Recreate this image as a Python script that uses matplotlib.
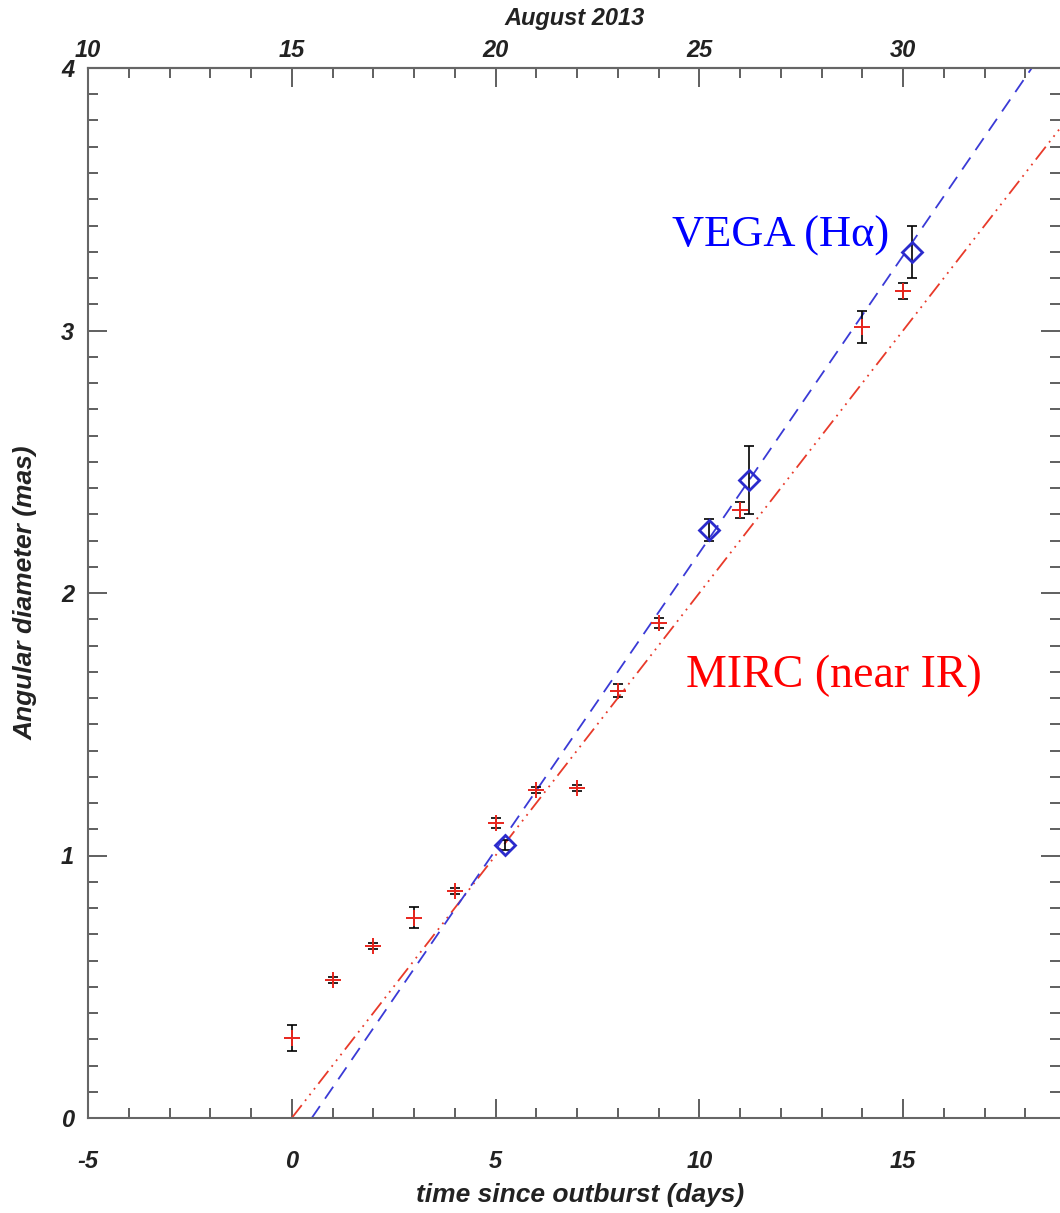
import matplotlib.pyplot as plt
from matplotlib.ticker import MultipleLocator
import numpy as np

# MIRC (near IR) diameters
mirc_t = [0, 1, 2, 3, 4, 5, 6, 7, 8, 9, 11, 14, 15]
mirc_d = [0.305, 0.526, 0.655, 0.762, 0.865, 1.124, 1.25, 1.257, 1.627, 1.886, 2.316, 3.013, 3.15]
mirc_err = [0.05, 0.012, 0.012, 0.04, 0.012, 0.018, 0.012, 0.012, 0.025, 0.02, 0.03, 0.06, 0.03]

# VEGA (H-alpha) diameters
vega_t = [5.24, 10.23, 11.21, 15.23]
vega_d = [1.04, 2.24, 2.43, 3.30]
vega_err = [0.02, 0.04, 0.13, 0.10]

# linear expansion fits: diameter = slope * (t - t0)
mirc_slope, mirc_t0 = 0.200, 0.0
vega_slope, vega_t0 = 0.2264, 0.49

grey = '#444444'
tickfont = dict(family='Liberation Sans', weight='bold', style='italic', size=17)
labelfont = dict(tickfont, size=19)

W, H = 1060, 1213
fig = plt.figure(figsize=(W/100, H/100), dpi=100)
ax = fig.add_axes([88/W, 1 - 1118/H, 1 - 88/W, (1118 - 68)/H])

ax.errorbar(mirc_t, mirc_d, yerr=mirc_err, fmt='none', ecolor='black', elinewidth=1.2, capsize=3.5, capthick=1.2, zorder=3)
ax.plot(mirc_t, mirc_d, '+', color='#e8251c', ms=11, mew=1.4, zorder=4)

ax.errorbar(vega_t, vega_d, yerr=vega_err, fmt='none', ecolor='black', elinewidth=1.2, capsize=3.5, capthick=1.2, zorder=3)
ax.plot(vega_t, vega_d, 'D', mfc='none', mec='#2b2bcc', ms=10.5, mew=2.0, zorder=4)

tt = np.array([mirc_t0, 25])
ax.plot(tt, mirc_slope*(tt - mirc_t0), color='#e83a2a', lw=1.3, dashes=(9, 3, 1, 3, 1, 3, 1, 3), zorder=2)
tt = np.array([vega_t0, 25])
ax.plot(tt, vega_slope*(tt - vega_t0), color='#3a3ad6', lw=1.3, dashes=(8, 5), zorder=2)

ax.set_xlim(-5, 18.85)
ax.set_ylim(0, 4)

ax.xaxis.set_minor_locator(MultipleLocator(1))
ax.yaxis.set_minor_locator(MultipleLocator(0.1))
ax.tick_params(which='both', direction='in', colors=grey, top=False, right=True, width=1.2)
ax.tick_params(which='major', length=14)
ax.tick_params(which='minor', length=7)
ax.tick_params(axis='x', pad=23)
ax.tick_params(axis='y', pad=10)
ax.set_xticks([-5, 0, 5, 10, 15])
ax.set_xticklabels(['-5', '0', '5', '10', '15'], fontdict=tickfont, color='#222222')
ax.set_yticks([0, 1, 2, 3, 4])
ax.set_yticklabels(['0', '1', '2', '3', '4'], fontdict=tickfont, color='#222222')
ax.set_xlim(-5, 18.85)

for s in ['left', 'bottom', 'top']:
    ax.spines[s].set_color('#666666')
    ax.spines[s].set_linewidth(1.5)
ax.spines['right'].set_visible(False)

ax.set_xlabel('time since outburst (days)', fontdict=labelfont, color='#222222')
ax.xaxis.set_label_coords(0.506, -0.062)
ax.set_ylabel('Angular diameter (mas)', fontdict=labelfont, color='#222222')
ax.yaxis.set_label_coords(-0.052, 0.5)

# calendar dates along the top
top = ax.secondary_xaxis('top', functions=(lambda x: x + 15, lambda x: x - 15))
top.xaxis.set_minor_locator(MultipleLocator(1))
top.tick_params(which='both', direction='in', colors=grey, width=1.2, pad=4)
top.tick_params(which='major', length=14)
top.tick_params(which='minor', length=7)
top.spines['top'].set_color('#666666')
top.spines['top'].set_linewidth(1.5)
top.set_xticks([10, 15, 20, 25, 30])
top.set_xticklabels(['10', '15', '20', '25', '30'], fontdict=tickfont, color='#222222')
fig.text(575/W, 1 - 18/H, 'August 2013', ha='center', va='center', color='#222222', **dict(labelfont, size=17))

fig.text(672/W, 1 - 247/H, 'VEGA (H\u03b1)', color='#0000ff', family='Liberation Serif', fontsize=32)
fig.text(686/W, 1 - 687/H, 'MIRC (near IR)', color='#ff0000', family='Liberation Serif', fontsize=33)

fig.savefig('out.png', dpi=100)
